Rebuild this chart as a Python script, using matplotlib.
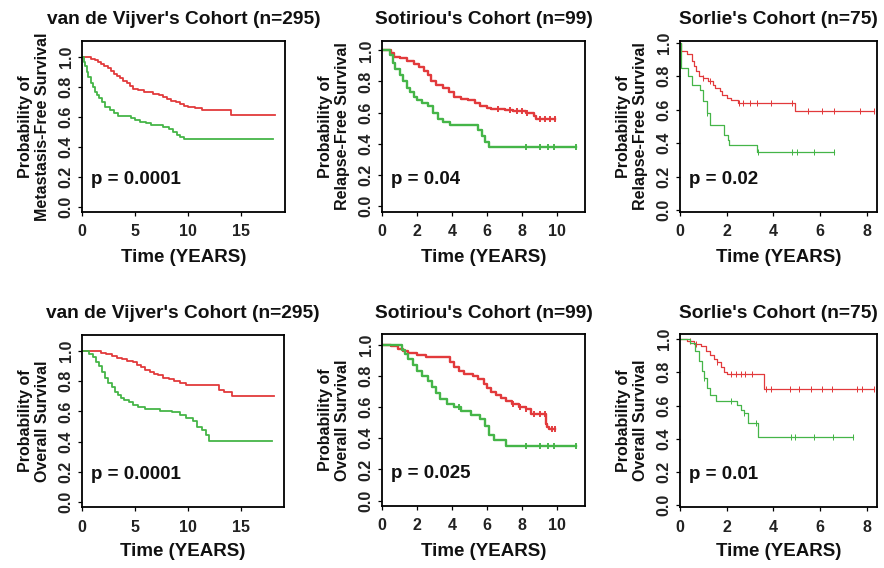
import numpy as np
import matplotlib
matplotlib.use("Agg")
import matplotlib.pyplot as plt

plt.rcParams['font.family'] = ['Liberation Sans', 'DejaVu Sans']
plt.rcParams['font.weight'] = 'bold'

RED = '#e23a3c'
GREEN = '#45b548'

# ---- data (time in years, survival probability) ----
# van de Vijver, metastasis-free survival
mfs_vdv_hi_t = [0, 0.8, 1.2, 1.5, 1.8, 2.1, 2.4, 2.7, 3.0, 3.3, 3.6, 3.9, 4.2, 4.5, 4.8,
                5.3, 5.8, 6.2, 6.7, 7.2, 7.6, 8.0, 8.4, 8.8, 9.2, 9.6, 10.0, 10.6, 11.3, 14.0, 18.2]
mfs_vdv_hi_s = [1.0, 0.99, 0.98, 0.97, 0.955, 0.94, 0.925, 0.91, 0.89, 0.875, 0.86, 0.84, 0.825,
                0.81, 0.785, 0.78, 0.77, 0.765, 0.755, 0.745, 0.735, 0.72, 0.71, 0.70, 0.685,
                0.675, 0.665, 0.66, 0.648, 0.611, 0.611]
mfs_vdv_lo_t = [0, 0.15, 0.3, 0.45, 0.6, 0.8, 1.0, 1.2, 1.4, 1.6, 1.9, 2.2, 2.6, 3.0, 3.4,
                4.6, 5.0, 5.5, 6.0, 6.5, 7.0, 7.6, 8.2, 8.6, 8.9, 9.2, 9.6, 18.0]
mfs_vdv_lo_s = [1.0, 0.97, 0.94, 0.9, 0.87, 0.83, 0.8, 0.77, 0.75, 0.73, 0.7, 0.67, 0.645,
                0.625, 0.61, 0.595, 0.58, 0.57, 0.56, 0.55, 0.545, 0.535, 0.52, 0.5, 0.48,
                0.465, 0.455, 0.455]

# Sotiriou, relapse-free survival
rfs_sot_hi_t = [0, 0.5, 0.7, 1.05, 1.4, 1.8, 2.1, 2.4, 2.6, 2.8, 3.1, 3.5, 3.8, 4.1, 4.5,
                4.9, 5.3, 5.6, 6.0, 6.2, 7.0, 7.5, 8.2, 8.7, 8.8, 9.9]
rfs_sot_hi_s = [1.0, 0.98, 0.96, 0.95, 0.93, 0.91, 0.89, 0.865, 0.84, 0.80, 0.78, 0.76, 0.73,
                0.70, 0.69, 0.68, 0.66, 0.64, 0.63, 0.62, 0.615, 0.61, 0.60, 0.58, 0.56, 0.56]
rfs_sot_hi_cens = [6.6, 7.3, 7.7, 8.0, 8.3, 9.0, 9.3, 9.6, 9.9]
rfs_sot_lo_t = [0, 0.45, 0.6, 0.75, 1.0, 1.2, 1.4, 1.6, 1.8, 2.0, 2.3, 2.6, 2.9, 3.2, 3.5,
                3.9, 5.5, 5.7, 5.9, 6.1, 11.1]
rfs_sot_lo_s = [1.0, 0.97, 0.92, 0.88, 0.84, 0.80, 0.76, 0.73, 0.70, 0.68, 0.66, 0.64, 0.60,
                0.56, 0.54, 0.52, 0.49, 0.45, 0.41, 0.375, 0.375]
rfs_sot_lo_cens = [8.2, 9.05, 9.5, 9.8, 11.1]

# Sorlie, relapse-free survival
rfs_sor_hi_t = [0, 0.05, 0.3, 0.5, 0.6, 0.7, 0.8, 1.0, 1.2, 1.4, 1.5, 1.7, 1.8, 2.0, 2.2,
                2.5, 4.95, 8.3]
rfs_sor_hi_s = [1.0, 0.95, 0.93, 0.89, 0.86, 0.83, 0.80, 0.79, 0.77, 0.75, 0.73, 0.71, 0.69,
                0.67, 0.66, 0.64, 0.59, 0.59]
rfs_sor_hi_cens = [1.0, 1.3, 2.55, 2.7, 3.0, 3.3, 3.9, 4.8, 5.5, 6.1, 6.6, 7.7, 8.3]
rfs_sor_lo_t = [0, 0.05, 0.35, 0.5, 0.85, 1.0, 1.15, 1.3, 1.9, 2.05, 2.1, 3.3, 6.6]
rfs_sor_lo_s = [1.0, 0.85, 0.80, 0.75, 0.72, 0.65, 0.58, 0.51, 0.45, 0.42, 0.39, 0.345, 0.345]
rfs_sor_lo_cens = [1.15, 3.35, 4.8, 5.0, 5.75, 6.6]

# van de Vijver, overall survival
os_vdv_hi_t = [0, 1.8, 2.3, 2.8, 3.3, 3.8, 4.3, 4.8, 5.2, 5.6, 6.0, 6.4, 6.8, 7.2, 7.7, 8.2,
               8.7, 9.3, 9.8, 13.0, 13.4, 14.2, 18.2]
os_vdv_hi_s = [1.0, 0.99, 0.98, 0.97, 0.955, 0.945, 0.935, 0.925, 0.91, 0.895, 0.875, 0.86,
               0.85, 0.84, 0.825, 0.815, 0.80, 0.79, 0.775, 0.745, 0.73, 0.70, 0.70]
os_vdv_lo_t = [0, 0.7, 1.0, 1.3, 1.6, 1.9, 2.2, 2.5, 2.8, 3.1, 3.4, 3.7, 4.0, 4.4, 4.8, 5.3,
               6.0, 7.4, 8.5, 9.3, 9.8, 10.5, 10.9, 11.3, 11.7, 12.0, 18.0]
os_vdv_lo_s = [1.0, 0.98, 0.96, 0.93, 0.9, 0.86, 0.82, 0.79, 0.76, 0.73, 0.71, 0.69, 0.675,
               0.66, 0.645, 0.63, 0.615, 0.605, 0.595, 0.58, 0.56, 0.54, 0.5, 0.475, 0.445,
               0.405, 0.405]

# Sotiriou, overall survival
os_sot_hi_t = [0, 0.5, 0.9, 1.2, 1.5, 2.0, 2.5, 3.9, 4.1, 4.4, 4.7, 5.2, 5.5, 5.8, 6.0, 6.2,
               6.5, 6.8, 7.1, 7.4, 7.8, 8.2, 8.5, 9.35, 9.45, 9.55, 9.9]
os_sot_hi_s = [1.0, 0.99, 0.975, 0.96, 0.95, 0.935, 0.92, 0.89, 0.86, 0.83, 0.815, 0.80, 0.78,
               0.75, 0.72, 0.70, 0.68, 0.66, 0.64, 0.62, 0.60, 0.585, 0.555, 0.49, 0.47, 0.46,
               0.46]
os_sot_hi_cens = [7.5, 7.9, 8.2, 8.7, 9.0, 9.3, 9.7, 9.9]
os_sot_lo_t = [0, 1.15, 1.3, 1.5, 1.75, 2.0, 2.3, 2.6, 2.85, 3.1, 3.3, 3.7, 4.1, 4.5, 5.1,
               5.6, 5.9, 6.1, 6.4, 7.1, 11.1]
os_sot_lo_s = [1.0, 0.97, 0.94, 0.91, 0.87, 0.83, 0.80, 0.77, 0.73, 0.69, 0.65, 0.62, 0.60,
               0.575, 0.55, 0.525, 0.48, 0.42, 0.39, 0.35, 0.35]
os_sot_lo_cens = [4.4, 8.2, 9.05, 9.5, 9.8, 11.1]

# Sorlie, overall survival
os_sor_hi_t = [0, 0.3, 0.6, 0.9, 1.1, 1.3, 1.45, 1.6, 1.75, 1.9, 2.0, 3.6, 8.3]
os_sor_hi_s = [1.0, 0.985, 0.97, 0.955, 0.93, 0.905, 0.88, 0.86, 0.83, 0.80, 0.79, 0.70, 0.70]
os_sor_hi_cens = [0.45, 0.7, 1.6, 2.2, 2.4, 2.6, 2.8, 3.1, 3.7, 3.9, 4.7, 5.1, 5.6, 6.1, 6.5,
                  7.6, 7.8, 8.3]
os_sor_lo_t = [0, 0.45, 0.65, 0.8, 0.95, 1.05, 1.15, 1.3, 1.55, 2.45, 2.6, 2.75, 2.9, 3.35, 7.4]
os_sor_lo_s = [1.0, 0.975, 0.925, 0.865, 0.805, 0.765, 0.705, 0.665, 0.625, 0.605, 0.575,
               0.555, 0.495, 0.41, 0.41]
os_sor_lo_cens = [1.05, 2.2, 2.75, 3.25, 4.75, 4.95, 5.75, 6.55, 7.4]

titles = ["van de Vijver's Cohort (n=295)", "Sotiriou's Cohort (n=99)", "Sorlie's Cohort (n=75)"] * 2
ylabels = ["Probability of\nMetastasis-Free Survival", "Probability of\nRelapse-Free Survival",
           "Probability of\nRelapse-Free Survival", "Probability of\nOverall Survival",
           "Probability of\nOverall Survival", "Probability of\nOverall Survival"]
pvalues = ["p = 0.0001", "p = 0.04", "p = 0.02", "p = 0.0001", "p = 0.025", "p = 0.01"]
xticks = [[0, 5, 10, 15], [0, 2, 4, 6, 8, 10], [0, 2, 4, 6, 8]] * 2
xlims = [19.1, 11.6, 8.45] * 2
ylims = [(-0.033, 1.107), (-0.04, 1.06), (-0.01, 1.01),
         (-0.033, 1.107), (-0.035, 1.07), (-0.01, 1.03)]

curves = [
    [(mfs_vdv_hi_t, mfs_vdv_hi_s, []), (mfs_vdv_lo_t, mfs_vdv_lo_s, [])],
    [(rfs_sot_hi_t, rfs_sot_hi_s, rfs_sot_hi_cens), (rfs_sot_lo_t, rfs_sot_lo_s, rfs_sot_lo_cens)],
    [(rfs_sor_hi_t, rfs_sor_hi_s, rfs_sor_hi_cens), (rfs_sor_lo_t, rfs_sor_lo_s, rfs_sor_lo_cens)],
    [(os_vdv_hi_t, os_vdv_hi_s, []), (os_vdv_lo_t, os_vdv_lo_s, [])],
    [(os_sot_hi_t, os_sot_hi_s, os_sot_hi_cens), (os_sot_lo_t, os_sot_lo_s, os_sot_lo_cens)],
    [(os_sor_hi_t, os_sor_hi_s, os_sor_hi_cens), (os_sor_lo_t, os_sor_lo_s, os_sor_lo_cens)],
]
linewidths = [1.3, 1.7, 0.9, 1.3, 1.7, 0.9]

# axes boxes in pixels: left, right, top, bottom
W, H = 884, 568
boxes = [(82, 285, 41, 212), (382, 585, 41, 212), (680, 877, 41, 212),
         (82, 284, 335, 507), (382, 585, 334, 506), (680, 877, 334, 507)]

fig = plt.figure(figsize=(W / 100, H / 100), dpi=100)


def fx(px):
    return px / W


def fy(py):
    return 1 - py / H


def step_value(t, s, x):
    i = np.searchsorted(t, x, side='right') - 1
    return np.asarray(s)[i]


for k, (l, r, tp, bt) in enumerate(boxes):
    ax = fig.add_axes([fx(l), fy(bt), fx(r) - fx(l), fy(tp) - fy(bt)])
    for (t, s, cens), col in zip(curves[k], [RED, GREEN]):
        ax.plot(t, s, drawstyle='steps-post', color=col, lw=linewidths[k])
        if cens:
            ax.plot(cens, step_value(t, s, cens), ls='none', marker='|', ms=4,
                    mew=linewidths[k] * 0.8, color=col)
    ax.set_xlim(0, xlims[k])
    ax.set_ylim(*ylims[k])
    ax.set_xticks(xticks[k])
    ax.set_yticks([0, 0.2, 0.4, 0.6, 0.8, 1.0])
    ax.set_yticklabels(['0.0', '0.2', '0.4', '0.6', '0.8', '1.0'], rotation=90, va='center')
    ax.tick_params(length=3, width=0.9, labelsize=11.5, labelcolor='#222222')
    ax.tick_params(axis='x', pad=6)
    ax.tick_params(axis='y', pad=3)
    for sp in ax.spines.values():
        sp.set_linewidth(1.3)
    ax.text(0.045, 0.19, pvalues[k], transform=ax.transAxes, fontsize=13.5,
            fontweight='bold', va='center', ha='left', color='#111111')

    cx = (l + r) / 2
    fig.text(fx(cx), fy(tp - 21), titles[k], ha='center', va='center',
             fontsize=13.8, fontweight='bold', color='#111111')
    fig.text(fx(cx), fy(bt + 45), 'Time (YEARS)', ha='center', va='center',
             fontsize=13.5, fontweight='bold', color='#111111')
    fig.text(fx(l - 48), fy((tp + bt) / 2), ylabels[k], ha='center', va='center',
             rotation=90, fontsize=11.5, fontweight='bold', multialignment='center',
             linespacing=1.15, color='#111111')

fig.savefig('out.png', dpi=100)
